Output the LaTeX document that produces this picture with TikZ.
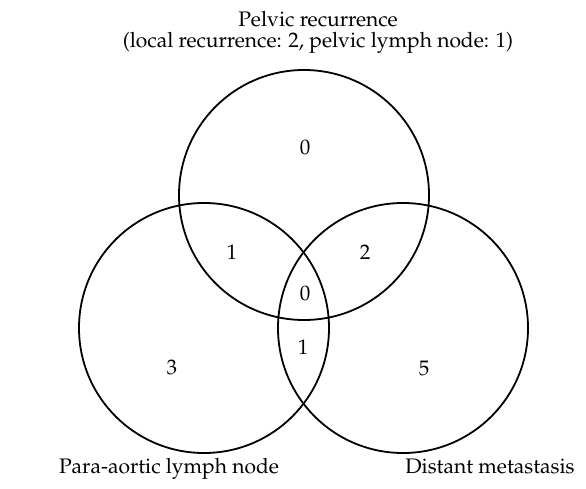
\documentclass[tikz,border=0pt]{standalone}
\usepackage[T1]{fontenc}
\usepackage{mathpazo}
\begin{document}
\begin{tikzpicture}[x=1bp, y=-1bp, font=\fontsize{21.1}{22}\selectfont,
      set/.style={circle, draw, line width=1.8bp, minimum size=250bp, inner sep=0pt},
      num/.style={inner sep=0pt},
      lbl/.style={inner sep=0pt, anchor=base, align=center}]
    \useasboundingbox (0,0) rectangle (586,489);
    \node[set] (pel) at (304,195) {};
    \node[set] (pao) at (204,328) {};
    \node[set] (dis) at (403,328) {};
    \node[lbl] (tPel) at (318,48) {Pelvic recurrence\\(local recurrence: 2, pelvic lymph node: 1)};
    \node[lbl] (tPao) at (169,473) {Para-aortic lymph node};
    \node[lbl] (tDis) at (490,473) {Distant metastasis};
    \node[num] (nPel)    at (305,147) {0};
    \node[num] (nPelPao) at (232,252) {1};
    \node[num] (nPelDis) at (365,252) {2};
    \node[num] (nAll)    at (305,293) {0};
    \node[num] (nPaoDis) at (303,347) {1};
    \node[num] (nPao)    at (172,367) {3};
    \node[num] (nDis)    at (424,368) {5};
  \end{tikzpicture}
\end{document}
